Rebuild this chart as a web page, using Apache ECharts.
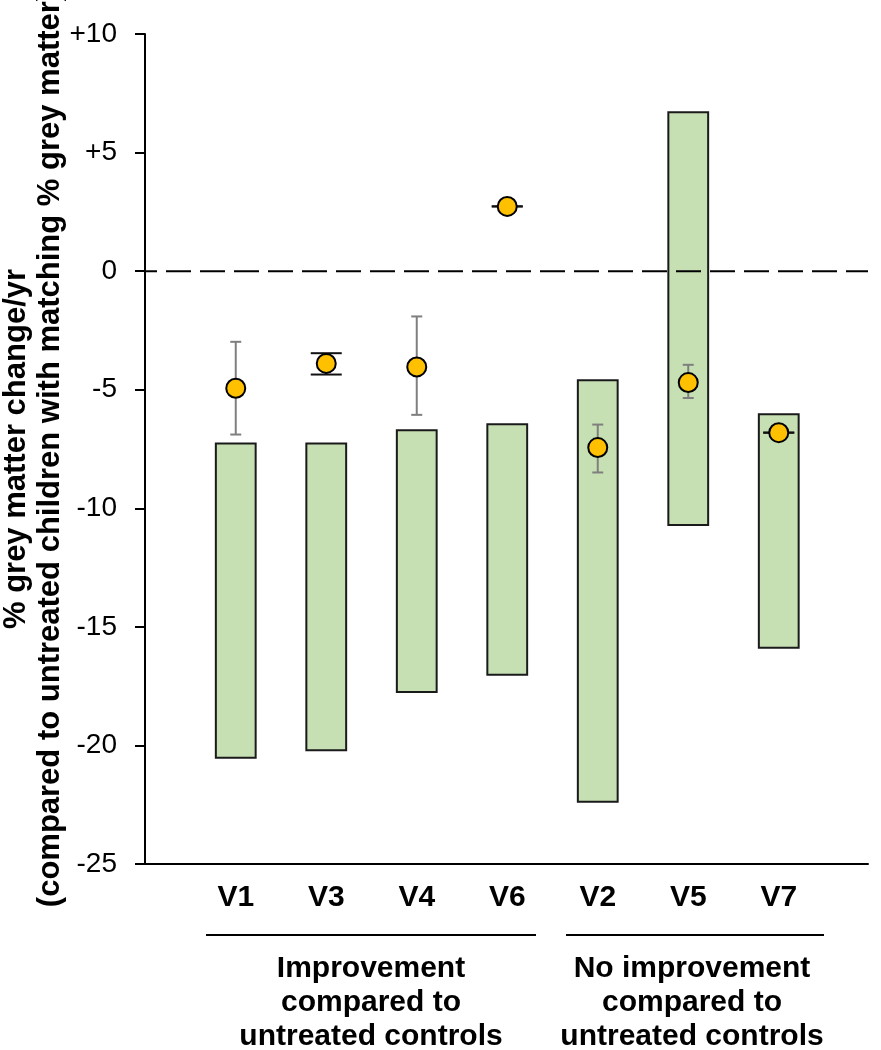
<!DOCTYPE html>
<html>
<head>
<meta charset="utf-8">
<script src="https://cdn.jsdelivr.net/npm/echarts@6/dist/echarts.min.js"></script>
<style>
html,body{margin:0;padding:0;background:#fff;}
#chart{width:881px;height:1050px;}
</style>
</head>
<body>
<div id="chart"></div>
<script>
// ---- data ----
const categories = ['V1', 'V3', 'V4', 'V6', 'V2', 'V5', 'V7'];
const barTop    = [-7.27, -7.27, -6.71, -6.46, -4.60, 6.70, -6.03];
const barBottom = [-20.52, -20.20, -17.75, -17.02, -22.38, -10.70, -15.88];
const pointValue = [-4.94, -3.89, -4.04, 2.73, -7.44, -4.70, -6.81];
const grayErrHigh = [-2.98, null, -1.91, null, -6.47, -3.95, null];
const grayErrLow  = [-6.89, null, -6.06, null, -8.49, -5.35, null];
const blackErrHigh = [null, -3.46, null, 2.73, null, null, -6.81];
const blackErrLow  = [null, -4.36, null, 2.73, null, null, -6.81];
const referenceValue = 0;
const yTickValues = [-25, -20, -15, -10, -5, 0, 5, 10];
const yTickLabels = ['-25', '-20', '-15', '-10', '-5', '0', '+5', '+10'];
const groupLabels = ['Improvement\ncompared to\nuntreated controls', 'No improvement\ncompared to\nuntreated controls'];
const yTitle = '% grey matter change/yr\n(compared to untreated children with matching % grey matter)';

const FONT = 'Arial, "Liberation Sans", sans-serif';
const chart = echarts.init(document.getElementById('chart'), null, {renderer: 'canvas'});

function errRender(capW, color) {
  return function (params, api) {
    const i = api.value(0);
    const lo = api.coord([i, api.value(1)]);
    const hi = api.coord([i, api.value(2)]);
    const x = lo[0];
    const st = {stroke: color, lineWidth: 2};
    return {
      type: 'group',
      children: [
        {type: 'line', shape: {x1: x, y1: hi[1], x2: x, y2: lo[1]}, style: st},
        {type: 'line', shape: {x1: x - capW / 2, y1: hi[1], x2: x + capW / 2, y2: hi[1]}, style: st},
        {type: 'line', shape: {x1: x - capW / 2, y1: lo[1], x2: x + capW / 2, y2: lo[1]}, style: st}
      ]
    };
  };
}

function errData(lowArr, highArr) {
  const out = [];
  lowArr.forEach((l, i) => { if (l !== null) out.push([i, l, highArr[i]]); });
  return out;
}

const option = {
  animation: false,
  backgroundColor: '#ffffff',
  grid: [
    {left: 145, right: 13, top: 34, bottom: 186, containLabel: false, outerBoundsMode: 'none'},
    {left: 190.5, width: 633.5, top: 34, bottom: 186, containLabel: false, outerBoundsMode: 'none'}
  ],
  xAxis: [
    {
      type: 'value', gridIndex: 0, min: 0, max: 1, position: 'bottom',
      axisLine: {show: true, onZero: false, lineStyle: {color: '#000', width: 2}},
      axisTick: {show: false}, axisLabel: {show: false}, splitLine: {show: false}
    },
    {
      type: 'category', gridIndex: 1, data: categories,
      axisLine: {show: false}, axisTick: {show: false}, splitLine: {show: false},
      axisLabel: {color: '#000', fontFamily: FONT, fontWeight: 'bold', fontSize: 30, margin: 19}
    }
  ],
  yAxis: [
    {
      type: 'value', gridIndex: 0, min: -25, max: 10, interval: 5,
      axisLine: {show: true, lineStyle: {color: '#000', width: 2}},
      axisTick: {show: true, inside: false, length: 10, lineStyle: {color: '#000', width: 2}},
      splitLine: {show: false},
      axisLabel: {
        color: '#000', fontFamily: FONT, fontSize: 28, margin: 28,
        formatter: function (v) { const k = yTickValues.indexOf(v); return k >= 0 ? yTickLabels[k] : String(v); }
      },
      name: yTitle, nameLocation: 'middle', nameRotate: 90, nameGap: 78, nameMoveOverlap: false,
      nameTextStyle: {color: '#000', fontFamily: FONT, fontWeight: 'bold', fontSize: 31, lineHeight: 34, align: 'center'}
    },
    {
      type: 'value', gridIndex: 1, min: -25, max: 10, interval: 5, show: false,
      splitLine: {show: false}
    }
  ],
  series: [
    {
      type: 'custom', xAxisIndex: 1, yAxisIndex: 1, z: 1,
      encode: {x: 0, y: [1, 2]},
      data: barTop.map((t, i) => [i, t, barBottom[i]]),
      renderItem: function (params, api) {
        const i = api.value(0);
        const top = api.coord([i, api.value(1)]);
        const bot = api.coord([i, api.value(2)]);
        const w = api.size([1, 0])[0] * 0.44;
        return {
          type: 'rect',
          shape: {x: top[0] - w / 2, y: top[1], width: w, height: bot[1] - top[1]},
          style: {fill: '#c6e0b4', stroke: '#1a1a1a', lineWidth: 2}
        };
      }
    },
    {
      type: 'line', xAxisIndex: 0, yAxisIndex: 0, z: 2, symbol: 'none', silent: true,
      data: [[0, referenceValue], [1, referenceValue]],
      lineStyle: {color: '#000', width: 2, type: [25, 9], dashOffset: 13}
    },
    {
      type: 'custom', xAxisIndex: 1, yAxisIndex: 1, z: 3,
      encode: {x: 0, y: [1, 2]},
      data: errData(grayErrLow, grayErrHigh),
      renderItem: errRender(11, '#7f7f7f')
    },
    {
      type: 'custom', xAxisIndex: 1, yAxisIndex: 1, z: 3,
      encode: {x: 0, y: [1, 2]},
      data: errData(blackErrLow, blackErrHigh),
      renderItem: errRender(31, '#111')
    },
    {
      type: 'scatter', xAxisIndex: 1, yAxisIndex: 1, z: 4,
      data: pointValue.map((v, i) => [i, v]),
      symbol: 'circle', symbolSize: 19,
      itemStyle: {color: '#ffc000', borderColor: '#000', borderWidth: 2, opacity: 1}
    }
  ],
  graphic: [
    {type: 'line', shape: {x1: 206, y1: 935, x2: 536, y2: 935}, style: {stroke: '#000', lineWidth: 2}},
    {type: 'line', shape: {x1: 566, y1: 935, x2: 824, y2: 935}, style: {stroke: '#000', lineWidth: 2}},
    {type: 'text', x: 371, y: 952, style: {text: groupLabels[0], fill: '#000', font: 'bold 30px ' + FONT, lineHeight: 34, align: 'center', verticalAlign: 'top'}},
    {type: 'text', x: 692, y: 952, style: {text: groupLabels[1], fill: '#000', font: 'bold 30px ' + FONT, lineHeight: 34, align: 'center', verticalAlign: 'top'}}
  ]
};
chart.setOption(option);
</script>
</body>
</html>
